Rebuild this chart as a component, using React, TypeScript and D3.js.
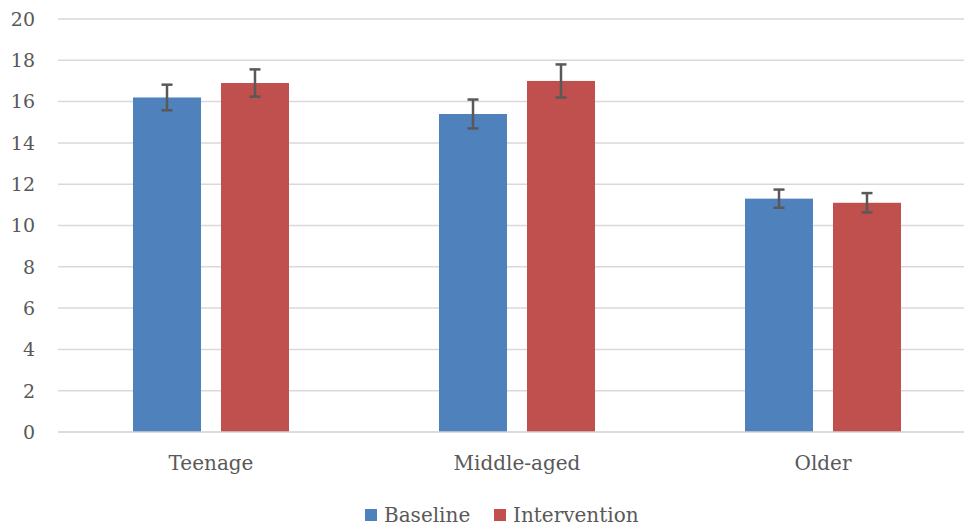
import React from "react";
import * as d3 from "d3";

const categories = ["Teenage", "Middle-aged", "Older"];
const seriesNames = ["Baseline", "Intervention"];
const baseline = [16.2, 15.4, 11.3];
const intervention = [16.9, 17.0, 11.1];
const baselineErr = [0.62, 0.7, 0.44];
const interventionErr = [0.66, 0.8, 0.47];
const yTicks = [0, 2, 4, 6, 8, 10, 12, 14, 16, 18, 20];
const colors = ["#4F81BD", "#C0504D"];

const W = 964;
const H = 526;
const FONT = "'DejaVu Serif', serif";

export default function App() {
  const x = d3.scaleBand<string>().domain(categories).range([58, 976]).paddingInner(0).paddingOuter(0);
  const inner = d3
    .scaleBand<string>()
    .domain(seriesNames)
    .range([75, x.step() - 75])
    .paddingInner(0.227)
    .paddingOuter(0);
  const y = d3.scaleLinear().domain([0, 20]).range([432, 19]);
  const values = [baseline, intervention];
  const errs = [baselineErr, interventionErr];

  return (
    <svg width={W} height={H} style={{ position: "absolute", left: 0, top: 0, background: "#fff" }}>
      {yTicks.map((t) => (
        <g key={t}>
          {t > 0 && (
            <line x1={58} x2={W} y1={y(t)} y2={y(t)} stroke="#d9d9d9" strokeWidth={1.5} />
          )}
          <text
            x={35}
            y={y(t)}
            dy="0.36em"
            textAnchor="end"
            fontFamily={FONT}
            fontSize={19}
            fill="#595959"
          >
            {t}
          </text>
        </g>
      ))}
      {seriesNames.map((s, si) =>
        categories.map((c, ci) => {
          const bx = (x(c) as number) + (inner(s) as number);
          const bw = inner.bandwidth();
          const v = values[si][ci];
          const e = errs[si][ci];
          const cx = bx + bw / 2;
          return (
            <g key={s + c}>
              <rect x={bx} y={y(v)} width={bw} height={y(0) - y(v)} fill={colors[si]} />
              <line x1={cx} x2={cx} y1={y(v + e)} y2={y(v - e)} stroke="#595959" strokeWidth={2.5} />
              <line x1={cx - 5.5} x2={cx + 5.5} y1={y(v + e)} y2={y(v + e)} stroke="#595959" strokeWidth={2.5} />
              <line x1={cx - 5.5} x2={cx + 5.5} y1={y(v - e)} y2={y(v - e)} stroke="#595959" strokeWidth={2.5} />
            </g>
          );
        })
      )}
      <line x1={58} x2={W} y1={y(0)} y2={y(0)} stroke="#d0d0d0" strokeWidth={1.5} />
      {categories.map((c) => (
        <text
          key={c}
          x={(x(c) as number) + x.bandwidth() / 2}
          y={470}
          textAnchor="middle"
          fontFamily={FONT}
          fontSize={20}
          fill="#595959"
        >
          {c}
        </text>
      ))}
      {seriesNames.map((s, si) => {
        const lx = [365, 494][si];
        return (
          <g key={s}>
            <rect x={lx} y={509} width={12} height={12} fill={colors[si]} />
            <text x={lx + 19} y={522} fontFamily={FONT} fontSize={20} fill="#595959">
              {s}
            </text>
          </g>
        );
      })}
    </svg>
  );
}
